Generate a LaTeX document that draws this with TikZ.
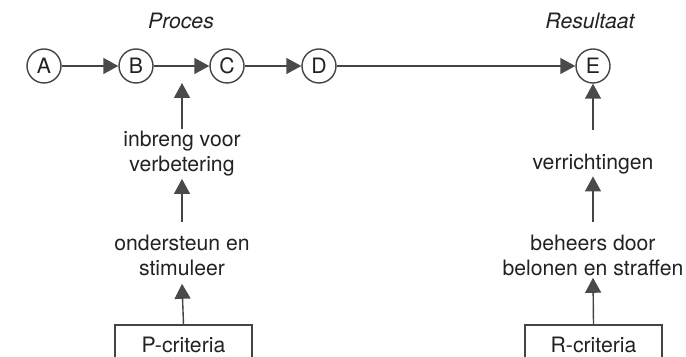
\documentclass[tikz,border=0pt]{standalone}
\usepackage{fontspec}
\setmainfont{TeX Gyre Heros}
\usetikzlibrary{arrows.meta}
\definecolor{linec}{HTML}{444444}
\definecolor{tipc}{HTML}{4A4A4A}
\definecolor{textc}{HTML}{222222}
\begin{document}
\begin{tikzpicture}[x=0.5pt,y=-0.5pt,
  state/.style={circle,draw=linec,line width=0.7pt,minimum size=17pt,inner sep=0pt,text=textc,font=\fontsize{10.6}{12.5}\selectfont},
  lab/.style={align=center,text=textc,inner sep=1pt,font=\fontsize{10.6}{12.5}\selectfont},
  title/.style={text=textc,inner sep=1pt,font=\fontsize{10.6}{12.5}\selectfont\itshape},
  crit/.style={draw=linec,line width=0.7pt,minimum width=68.5pt,minimum height=20pt,inner sep=0pt,text=textc,font=\fontsize{10.6}{12.5}\selectfont},
  arr/.style={draw=linec,line width=0.7pt,-{Triangle[length=7.5pt,width=8pt,color=tipc]}}]
\useasboundingbox (0,0) rectangle (686,357);
\fill[white] (0,0) rectangle (686,357);
% titles
\node[title] (proc) at (181,21) {Proces};
\node[title] (res) at (590,21) {Resultaat};
% process states
\node[state] (A) at (44,66) {A};
\node[state] (B) at (136,66) {B};
\node[state] (C) at (227,66) {C};
\node[state] (D) at (319,66) {D};
\node[state] (E) at (593,66) {E};
\draw[arr] (A) -- (B);
\draw[arr] (B) -- (C);
\draw[arr] (C) -- (D);
\draw[arr] (D) -- (E);
% left column
\coordinate (bc) at (182,83);
\node[lab] (inb) at (182,154) {inbreng voor\\verbetering};
\node[lab] (ond) at (182,255) {ondersteun en\\stimuleer};
\node[crit] (P) at (183.5,345) {P-criteria};
\draw[arr] (inb.north) ++(0,0) -- (bc);
\draw[arr,shorten <=5pt] (ond.north) -- (inb.south);
\draw[arr] (P.north) -- ([yshift=-3pt]ond.south);
% right column
\node[lab] (ver) at (593,164) {verrichtingen};
\node[lab] (beh) at (593,255) {beheers door\\belonen en straffen};
\node[crit] (R) at (593.5,345) {R-criteria};
\draw[arr,shorten <=11pt] (ver.north) -- (E.south);
\draw[arr,shorten <=5pt] (beh.north) -- (ver.south);
\draw[arr] (R.north) -- (beh.south);
\end{tikzpicture}
\end{document}
